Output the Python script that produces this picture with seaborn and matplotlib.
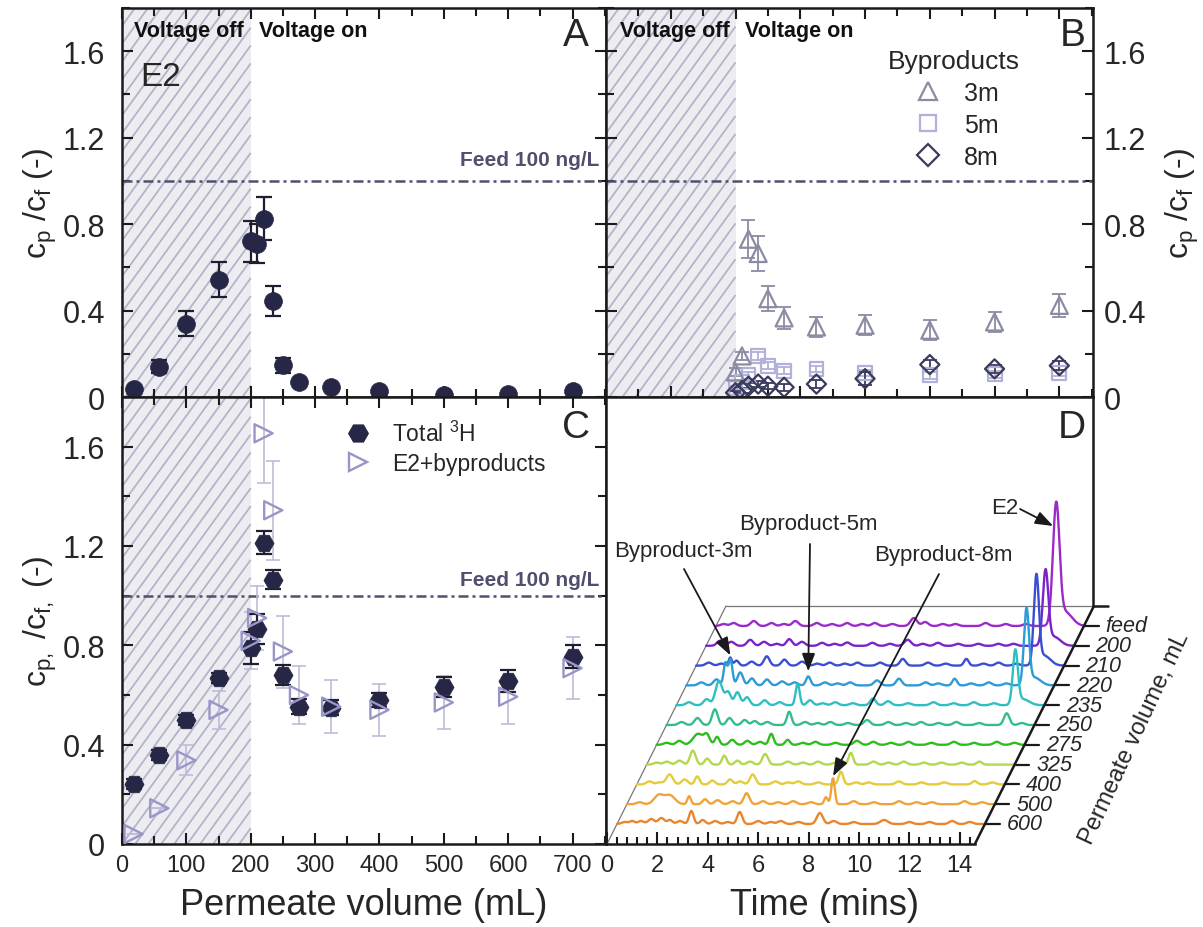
import numpy as np
import pandas as pd
import matplotlib
matplotlib.use("Agg")
import matplotlib.pyplot as plt
import seaborn as sns
from matplotlib.collections import LineCollection
from matplotlib.lines import Line2D
from matplotlib.ticker import MultipleLocator, FixedLocator, FuncFormatter

# ---------------- data ----------------
# Panel A: E2 in permeate
volume_ml = [18, 58, 100, 150, 200, 210, 220, 235, 250, 275, 325, 400, 500, 600, 700]
e2_ratio = [0.036, 0.141, 0.340, 0.543, 0.720, 0.710, 0.825, 0.445, 0.147, 0.070,
            0.045, 0.026, 0.008, 0.015, 0.030]
e2_err = [0.0, 0.030, 0.058, 0.080, 0.095, 0.090, 0.100, 0.070, 0.035, 0.0,
          0.0, 0.0, 0.0, 0.0, 0.0]

# Panel B: byproducts after the voltage is switched on
byproduct_volume_ml = [200, 210, 220, 235, 250, 275, 325, 400, 500, 600, 700]
bp_3m = [0.116, 0.190, 0.730, 0.664, 0.455, 0.366, 0.324, 0.332, 0.309, 0.347, 0.424]
bp_3m_err = [0.020, 0.020, 0.088, 0.080, 0.057, 0.050, 0.046, 0.046, 0.045, 0.048, 0.052]
bp_5m = [0.040, 0.070, 0.100, 0.190, 0.145, 0.122, 0.130, 0.110, 0.100, 0.105, 0.110]
bp_5m_err = [0.010, 0.010, 0.015, 0.020, 0.015, 0.015, 0.015, 0.015, 0.015, 0.015, 0.015]
bp_8m = [0.020, 0.030, 0.050, 0.060, 0.050, 0.045, 0.060, 0.085, 0.150, 0.130, 0.145]
bp_8m_err = [0.010, 0.010, 0.015, 0.015, 0.015, 0.015, 0.020, 0.030, 0.020, 0.020, 0.020]

# Panel C: total tritium vs. E2 + byproducts
total_3h = [0.240, 0.360, 0.500, 0.670, 0.790, 0.867, 1.213, 1.065, 0.680, 0.553,
            0.548, 0.580, 0.633, 0.656, 0.755]
total_3h_err = [0.02, 0.02, 0.02, 0.02, 0.064, 0.06, 0.047, 0.040, 0.040, 0.030,
                0.030, 0.030, 0.040, 0.045, 0.047]
e2_byproducts = [0.040, 0.144, 0.337, 0.540, 0.818, 0.910, 1.654, 1.344, 0.775, 0.600,
                 0.553, 0.540, 0.570, 0.593, 0.708]
e2_byproducts_err = [0.0, 0.0, 0.060, 0.077, 0.115, 0.130, 0.200, 0.200, 0.145, 0.115,
                     0.108, 0.105, 0.105, 0.108, 0.125]

feed_ratio = 1.0
voltage_on_ml = 200

# Panel D: chromatogram peaks per sample, (retention time min, intensity, width min)
sample_labels = ["600", "500", "400", "325", "275", "250", "235", "220", "210", "200", "feed"]
trace_colors = ["#E8862F", "#EFA43A", "#E3CC3A", "#B3D84A", "#2DBE1E", "#33BC8E",
                "#2FBFC2", "#2E9AD6", "#3A4FD0", "#7A24C8", "#9B2BC9"]
peaks_600 = [(0.3, 2, .12), (0.6, 3, .1), (0.95, 3, .12), (1.36, 5, .12), (1.76, 6, .12),
             (2.1, 4, .1), (2.5, 3, .12), (2.95, 13, .09), (3.4, 4, .1), (3.9, 3, .12),
             (4.4, 2, .12), (4.87, 12, .1), (5.6, 3, .12), (6.1, 2, .12), (6.5, 3, .12),
             (7.2, 2, .12), (8.05, 11, .12), (8.6, 3, .12), (9.4, 2, .12), (10.6, 4, .15),
             (11.6, 2, .12), (12.4, 2, .12), (13.3, 3, .12), (14.0, 2, .12)]
peaks_500 = [(0.5, 2, .12), (1.26, 9, .18), (1.7, 9, .2), (2.47, 8, .07), (3.1, 5, .1),
             (3.6, 4, .12), (4.2, 3, .12), (4.75, 11, .11), (5.4, 3, .12), (6.0, 2, .12),
             (6.6, 3, .12), (7.3, 2, .12), (7.9, 7, .07), (8.18, 26, .07), (9.0, 3, .12),
             (9.8, 2, .12), (10.8, 3, .12), (11.5, 2, .12), (12.1, 2, .12), (13.4, 3, .12),
             (14.1, 2, .12)]
peaks_400 = [(0.5, 3, .12), (0.9, 2, .12), (1.3, 10, .13), (1.9, 5, .12), (2.4, 8, .09),
             (3.0, 4, .1), (3.7, 5, .1), (4.1, 3, .12), (4.6, 10, .11), (5.5, 3, .12),
             (6.0, 2, .12), (6.4, 3, .12), (7.2, 2, .12), (8.1, 12.7, .09), (8.7, 2, .12),
             (9.2, 2, .12), (10.4, 3, .12), (11.3, 2, .12), (12.2, 2, .12),
             (13.4, 3.3, .1), (14.1, 2, .12)]
peaks_325 = [(0.4, 2, .12), (0.8, 3, .12), (1.3, 4, .12), (1.83, 14, .11), (2.4, 6, .1),
             (3.08, 9, .09), (3.6, 4, .1), (4.1, 3, .12), (4.7, 10.7, .11), (5.6, 3, .12),
             (6.2, 2, .12), (6.8, 3, .12), (7.5, 2, .12), (8.1, 11.7, .09), (9.0, 3, .12),
             (9.6, 2, .12), (10.2, 3, .12), (11.0, 2, .12), (11.7, 2, .12),
             (12.5, 2, .12), (13.2, 3, .1)]
peaks_275 = [(0.4, 2, .12), (0.9, 4, .12), (1.65, 11, .2), (2.0, 9, .11), (2.4, 8, .09),
             (3.0, 5, .11), (3.6, 4, .11), (4.1, 3, .12), (4.55, 11, .09), (5.2, 5, .09),
             (5.8, 2, .12), (6.3, 3, .12), (7.1, 2, .12), (7.95, 4, .12), (8.6, 3, .12),
             (9.3, 2, .12), (10.0, 3, .12), (10.9, 2, .12), (11.8, 3, .12),
             (12.6, 2, .12), (13.5, 3, .12), (14.2, 2, .12)]
peaks_250 = [(0.6, 3, .12), (1.23, 7, .12), (1.92, 15.7, .11), (2.5, 7, .11), (3.1, 5, .11),
             (3.5, 4, .11), (4.0, 3, .12), (4.87, 13.3, .09), (5.5, 3, .12), (6.0, 2, .12),
             (6.5, 3, .12), (7.2, 2, .12), (7.96, 5, .12), (8.8, 3, .12), (9.5, 2, .12),
             (10.1, 3, .12), (10.8, 2, .12), (11.5, 3, .12), (12.4, 2, .12),
             (13.5, 11.7, .11), (14.1, 2, .12)]
peaks_235 = [(0.5, 3, .12), (1.2, 6, .12), (1.69, 24, .14), (2.05, 13, .11), (2.42, 13, .11),
             (2.8, 8, .11), (3.5, 5, .11), (4.1, 3, .12), (4.81, 21.7, .08), (5.3, 5, .11),
             (5.8, 2, .12), (6.3, 3, .12), (7.0, 2, .12), (7.8, 6.7, .11), (8.4, 4, .12),
             (9.2, 2, .12), (10.2, 3, .12), (11.0, 2, .12), (11.8, 3, .12),
             (12.6, 2, .12), (13.45, 53, .1), (13.75, 6, .25)]
peaks_220 = [(0.6, 3, .12), (1.2, 6, .12), (1.55, 22, .07), (1.75, 26, .08), (2.14, 13, .11),
             (2.6, 7, .11), (3.2, 6, .11), (3.8, 4, .12), (4.3, 3, .12), (4.84, 9, .09),
             (5.5, 3, .12), (6.0, 2, .12), (6.5, 3, .12), (7.57, 5, .12), (8.44, 6.7, .11),
             (9.5, 3, .12), (10.0, 2, .12), (10.65, 6.7, .09), (11.3, 2, .12),
             (12.0, 3, .12), (12.7, 2, .12), (13.5, 74, .1), (13.8, 8, .25)]
peaks_210 = [(0.5, 3, .12), (1.0, 2, .12), (1.35, 8, .06), (1.6, 5, .09), (2.2, 4, .12),
             (2.8, 9.3, .11), (3.5, 6, .11), (4.2, 4, .12), (4.8, 2, .12), (5.3, 3, .12),
             (5.9, 2, .12), (6.4, 3, .12), (7.3, 3, .12), (8.2, 6.7, .11), (9.2, 3, .12),
             (9.9, 2, .12), (10.72, 6.7, .09), (11.4, 2, .12), (12.0, 3, .12),
             (12.7, 2, .12), (13.5, 87, .1), (13.8, 10, .25)]
peaks_200 = [(0.55, 5, .12), (1.0, 4, .12), (1.75, 6, .12), (2.3, 4, .12), (2.8, 2, .12),
             (3.3, 6.7, .11), (3.8, 4, .12), (4.6, 3, .12), (5.1, 2, .12), (5.6, 3.3, .12),
             (6.6, 3, .12), (7.3, 2, .12), (8.0, 6, .13), (8.6, 2, .12), (9.2, 3, .12),
             (10.0, 2, .12), (10.8, 2, .12), (11.6, 2, .12), (12.2, 2, .12),
             (13.47, 73, .11), (13.8, 9, .25)]
peaks_feed = [(0.3, 2, .12), (0.7, 3, .12), (1.5, 5, .12), (2.2, 3, .12), (2.7, 2, .12),
              (3.15, 5, .12), (4.0, 3, .12), (4.6, 2, .12), (5.2, 3, .12), (5.8, 2, .12),
              (6.3, 3, .12), (7.0, 2, .12), (7.85, 8, .13), (8.3, 4, .12), (9.0, 2, .12),
              (9.5, 2, .12), (10.7, 3, .12), (11.5, 2, .12), (12.3, 2, .12),
              (13.5, 118, .13), (13.85, 14, .28)]
chromatograms = [peaks_600, peaks_500, peaks_400, peaks_325, peaks_275, peaks_250,
                 peaks_235, peaks_220, peaks_210, peaks_200, peaks_feed]

# ---------------- style ----------------
sns.set_theme(style="ticks")
plt.rcParams["font.family"] = ["Liberation Sans", "DejaVu Sans"]
plt.rcParams["mathtext.fontset"] = "custom"
plt.rcParams["mathtext.rm"] = "Liberation Sans"
plt.rcParams["mathtext.it"] = "Liberation Sans:italic"
plt.rcParams["axes.linewidth"] = 1.6

NAVY = "#262646"
FEED_C = "#50506e"
HATCH_BG = "#ededf1"
HATCH_LN = "#b2b4c8"
YLABEL_A = r"$\mathregular{c_p}$ /$\mathregular{c_f}$ (-)"
YLABEL_C = r"$\mathregular{c_{p,}}$ /$\mathregular{c_{f,}}$ (-)"

W, H = 1203, 928
fig = plt.figure(figsize=(W / 100, H / 100), dpi=100)


def px_axes(x0, y0, x1, y1):
    return fig.add_axes([x0 / W, 1 - y1 / H, (x1 - x0) / W, (y1 - y0) / H])


def fig_text(x, y, s, **kw):
    return fig.text(x / W, 1 - y / H, s, **kw)


ax_a = px_axes(122, 9, 606, 398)
ax_b = px_axes(606, 9, 1093, 398)
ax_c = px_axes(122, 398, 606, 845)
ax_d = px_axes(606, 398, 1093, 845)

VOL_LIM = (0, 752)
RATIO_LIM = (0, 1.8)


def ratio_fmt(v, _):
    return "0" if abs(v) < 1e-9 else f"{v:.1f}"


def style_ratio_axes(ax, w_px, h_px):
    ax.set_xlim(*VOL_LIM)
    ax.set_ylim(*RATIO_LIM)
    ax.xaxis.set_major_locator(MultipleLocator(100))
    ax.xaxis.set_minor_locator(MultipleLocator(50))
    ax.yaxis.set_major_locator(MultipleLocator(0.4))
    ax.yaxis.set_minor_locator(MultipleLocator(0.2))
    ax.yaxis.set_major_formatter(FuncFormatter(ratio_fmt))
    ax.tick_params(which="both", direction="in", top=True, right=True, bottom=True,
                   left=True, width=1.5, color="k")
    ax.tick_params(axis="y", labelsize=22)
    ax.tick_params(which="major", length=8)
    ax.tick_params(which="minor", length=6)
    for s in ax.spines.values():
        s.set_linewidth(1.8)
        s.set_color("k")
    # voltage-off zone: grey band with diagonal hatching
    ax.axvspan(0, voltage_on_ml, facecolor=HATCH_BG, edgecolor="none", zorder=0)
    span_w = (voltage_on_ml - VOL_LIM[0]) / (VOL_LIM[1] - VOL_LIM[0]) * w_px
    spacing, ang = 13.0, np.deg2rad(54)
    run = h_px / np.tan(ang)
    segs = []
    x = -run
    while x < span_w:
        t0 = max(0.0, -x / run)
        t1 = min(1.0, (span_w - x) / run)
        if t1 > t0:
            segs.append([((x + t0 * run) / w_px, t0), ((x + t1 * run) / w_px, t1)])
        x += spacing
    lc = LineCollection(segs, colors=HATCH_LN, linewidths=1.3, transform=ax.transAxes,
                        zorder=0.5)
    ax.add_collection(lc, autolim=False)
    # feed concentration reference
    ax.axhline(feed_ratio, color=FEED_C, lw=1.8, ls=(0, (4, 1.6, 1.2, 1.6)), zorder=1)


style_ratio_axes(ax_a, 484, 389)
style_ratio_axes(ax_b, 487, 389)
style_ratio_axes(ax_c, 484, 447)

# ---------------- panel A ----------------
df_a = pd.DataFrame({"volume": volume_ml, "ratio": e2_ratio, "err": e2_err})
ax_a.errorbar(df_a.volume, df_a.ratio, yerr=df_a.err, fmt="none", ecolor="#1e1e30",
              elinewidth=1.6, capsize=6, capthick=1.6, zorder=2)
sns.scatterplot(data=df_a, x="volume", y="ratio", ax=ax_a, marker="o", s=165, color=NAVY,
                edgecolor=NAVY, linewidth=0.5, legend=False, zorder=3)
ax_a.tick_params(labelbottom=False)
ax_a.tick_params(axis="y", pad=12)
ax_a.set_xlabel("")
ax_a.set_ylabel(YLABEL_A, fontsize=23, va="center")
ax_a.yaxis.set_label_coords(-(122 - 40) / 484, 0.5)

# ---------------- panel B ----------------
df_b = pd.DataFrame({"volume": byproduct_volume_ml, "m3": bp_3m, "m3e": bp_3m_err,
                     "m5": bp_5m, "m5e": bp_5m_err, "m8": bp_8m, "m8e": bp_8m_err})
series_b = [("m5", "m5e", "s", "#b0b0d8", 100), ("m3", "m3e", "^", "#8b8ba3", 150),
            ("m8", "m8e", "D", "#3a3a5c", 95)]
for col, ecol, mk, c, sz in series_b:
    ax_b.errorbar(df_b.volume, df_b[col], yerr=df_b[ecol], fmt="none", ecolor=c,
                  elinewidth=1.3, capsize=5, capthick=1.3, zorder=2)
    sns.scatterplot(data=df_b, x="volume", y=col, ax=ax_b, marker=mk, s=sz,
                    facecolor="none", edgecolor=c, linewidth=1.6, legend=False, zorder=3)
ax_b.tick_params(labelbottom=False, labelleft=False, labelright=True)
ax_b.tick_params(axis="y", pad=8)
ax_b.set_xlabel("")
ax_b.yaxis.set_label_position("right")
ax_b.set_ylabel(YLABEL_A, fontsize=23, rotation=90, va="center")
ax_b.yaxis.set_label_coords((1182 - 606) / 487, 0.5)
ax_b.legend(
    handles=[Line2D([], [], ls="", marker="^", ms=13, mfc="none", mec="#8b8ba3", mew=1.6),
             Line2D([], [], ls="", marker="s", ms=11, mfc="none", mec="#b0b0d8", mew=1.6),
             Line2D([], [], ls="", marker="D", ms=11, mfc="none", mec="#3a3a5c", mew=1.6)],
    labels=["3m", "5m", "8m"], title="Byproducts", title_fontsize=19, fontsize=18,
    loc="upper left", bbox_to_anchor=(888 / W, 1 - 50 / H), bbox_transform=fig.transFigure,
    frameon=False, handlelength=1.5, handletextpad=0.7, labelspacing=0.32,
    borderpad=0, borderaxespad=0)

# ---------------- panel C ----------------
df_c = pd.DataFrame({"volume": volume_ml, "tot": total_3h, "tote": total_3h_err,
                     "eb": e2_byproducts, "ebe": e2_byproducts_err})
ax_c.errorbar(df_c.volume, df_c.eb, yerr=df_c.ebe, fmt="none", ecolor="#bdbcd8",
              elinewidth=1.2, capsize=5, capthick=1.2, zorder=2)
ax_c.errorbar(df_c.volume, df_c.tot, yerr=df_c.tote, fmt="none", ecolor="#1e1e30",
              elinewidth=1.6, capsize=6, capthick=1.6, zorder=2.5)
sns.scatterplot(data=df_c, x="volume", y="tot", ax=ax_c, marker="H", s=190, color=NAVY,
                edgecolor=NAVY, linewidth=0.5, legend=False, zorder=3)
sns.scatterplot(data=df_c, x="volume", y="eb", ax=ax_c, marker=">", s=170,
                facecolor="none", edgecolor="#9896c8", linewidth=1.7, legend=False, zorder=3.5)
ax_c.set_xlabel("Permeate volume (mL)", fontsize=26)
ax_c.xaxis.set_label_coords(0.5, -(888 - 845) / 447)
ax_c.set_ylabel(YLABEL_C, fontsize=23, va="center")
ax_c.yaxis.set_label_coords(-(122 - 40) / 484, 0.5)
ax_c.tick_params(axis="y", pad=12)
ax_c.tick_params(axis="x", labelsize=17, pad=7)
ax_c.legend(
    handles=[Line2D([], [], ls="", marker="H", ms=14, mfc=NAVY, mec=NAVY),
             Line2D([], [], ls="", marker=">", ms=13, mfc="none", mec="#9896c8", mew=1.7)],
    labels=[r"Total $\mathregular{^3}$H", "E2+byproducts"], fontsize=16.5,
    loc="upper left", bbox_to_anchor=(335 / W, 1 - 422 / H), bbox_transform=fig.transFigure,
    frameon=False, handlelength=2.0, handletextpad=0.5, labelspacing=0.25,
    borderpad=0, borderaxespad=0)

# ---------------- panel texts ----------------
bold = dict(fontsize=15.5, fontweight="bold", color="#111111", va="center")
fig_text(134, 31, "Voltage off", **bold)
fig_text(259, 31, "Voltage on", **bold)
fig_text(620, 31, "Voltage off", **bold)
fig_text(745, 31, "Voltage on", **bold)
fig_text(140, 77, "E2", fontsize=24, va="center")
feed_kw = dict(fontsize=15, fontweight="bold", color=FEED_C, ha="right", va="center")
fig_text(599, 160, "Feed 100 ng/L", **feed_kw)
fig_text(599, 580, "Feed 100 ng/L", **feed_kw)
letter_kw = dict(fontsize=28, ha="center", va="center")
fig_text(576, 36, "A", **letter_kw)
fig_text(1073, 36, "B", **letter_kw)
fig_text(576, 428, "C", **letter_kw)
fig_text(1072, 428, "D", **letter_kw)

# ---------------- panel D: stacked chromatograms ----------------
PX_PER_MIN = 25.2
ROW_PX = 19.8
XMIN = -1 / PX_PER_MIN
SKEW = 0.5 * ROW_PX / PX_PER_MIN          # minutes of shift per row step
ROW0 = (845 - 825) / ROW_PX               # depth of the front sample
DEPTH_BACK = (845 - 607) / ROW_PX         # depth of the back edge of the floor
T_END = 14.6

ax_d.set_xlim(XMIN, XMIN + 487 / PX_PER_MIN)
ax_d.set_ylim(0, 447 / ROW_PX)
ax_d.set_facecolor("white")
for side in ("top", "left", "right", "bottom"):
    ax_d.spines[side].set_linewidth(1.8)
    ax_d.spines[side].set_color("k")
ax_d.spines["bottom"].set_bounds(0, T_END)
ax_d.spines["right"].set_bounds(DEPTH_BACK, 447 / ROW_PX)
ax_d.xaxis.set_major_locator(FixedLocator(np.arange(0, 15, 2)))
ax_d.xaxis.set_minor_locator(FixedLocator(np.arange(0, T_END + 0.01, 0.4)))
ax_d.tick_params(axis="x", which="both", direction="in", top=False, bottom=True,
                 width=1.5, color="k", labelsize=17, pad=7)
ax_d.tick_params(axis="x", which="major", length=9)
ax_d.tick_params(axis="x", which="minor", length=5)
ax_d.tick_params(axis="y", which="both", left=False, right=False, labelleft=False)
ax_d.xaxis.set_major_formatter(FuncFormatter(lambda v, _: f"{v:.0f}"))

# floor of the waterfall
back_x = SKEW * DEPTH_BACK
ax_d.plot([0, back_x], [0, DEPTH_BACK], color="#777777", lw=0.9, zorder=1)
ax_d.plot([back_x, T_END + back_x], [DEPTH_BACK, DEPTH_BACK], color="#777777", lw=0.9,
          zorder=1)
ax_d.plot([T_END, T_END + back_x], [0, DEPTH_BACK], color="k", lw=1.8, zorder=4,
          clip_on=False, solid_capstyle="butt")
ax_d.plot([T_END + back_x, T_END + back_x + 0.55], [DEPTH_BACK, DEPTH_BACK], color="k",
          lw=1.8, clip_on=False)

t_grid = np.linspace(0, T_END, 1500)
for r in range(len(sample_labels) - 1, -1, -1):
    depth = ROW0 + r
    signal = np.zeros_like(t_grid)
    for tp, hp, wd in chromatograms[r]:
        signal += hp * np.exp(-0.5 * ((t_grid - tp) / wd) ** 2)
    trace = pd.DataFrame({"x": t_grid + SKEW * depth, "y": depth + signal / ROW_PX})
    sns.lineplot(data=trace, x="x", y="y", ax=ax_d, color=trace_colors[r], lw=1.7,
                 sort=False, estimator=None, zorder=2 + 0.01 * (10 - r))
    # depth-axis tick and label
    x_axis = T_END + SKEW * depth
    ax_d.plot([x_axis, x_axis + 0.58], [depth, depth], color="k", lw=1.6, clip_on=False)
    ax_d.text(x_axis + 0.85, depth, sample_labels[r], fontsize=15.5, style="italic",
              ha="left", va="center", clip_on=False)
ax_d.set_xlabel("Time (mins)", fontsize=26)
ax_d.xaxis.set_label_coords((825 - 606) / 487, -(888 - 845) / 447)
ax_d.set_ylabel("")
fig_text(1135, 739, "Permeate volume, mL", fontsize=17, rotation=65, ha="center",
         va="center")


def d_point(t, row, height):
    depth = ROW0 + row
    return (t + SKEW * depth, depth + height / ROW_PX)


def px_point(px, py):
    return ((px - 606) / PX_PER_MIN + XMIN, (845 - py) / ROW_PX)


arrow_kw = dict(arrowstyle="-|>,head_length=0.6,head_width=0.22", color="k", lw=1.3,
                shrinkA=0, shrinkB=0, mutation_scale=18)
ann_font = dict(fontsize=16, ha="center", va="center")
ax_d.text(*px_point(683, 552), "Byproduct-3m", **ann_font)
ax_d.annotate("", xy=d_point(1.75, 7, 30), xytext=px_point(684, 570), arrowprops=arrow_kw)
ax_d.text(*px_point(808, 525), "Byproduct-5m", **ann_font)
ax_d.annotate("", xy=d_point(4.84, 7, 14), xytext=px_point(810, 545), arrowprops=arrow_kw)
ax_d.text(*px_point(943, 555), "Byproduct-8m", **ann_font)
ax_d.annotate("", xy=d_point(8.18, 1, 28), xytext=px_point(939, 575), arrowprops=arrow_kw)
ax_d.text(*px_point(1005, 509), "E2", **ann_font)
ax_d.annotate("", xy=d_point(13.38, 10, 100), xytext=px_point(1020, 510),
              arrowprops=arrow_kw)

fig.savefig("out.png", dpi=100)
